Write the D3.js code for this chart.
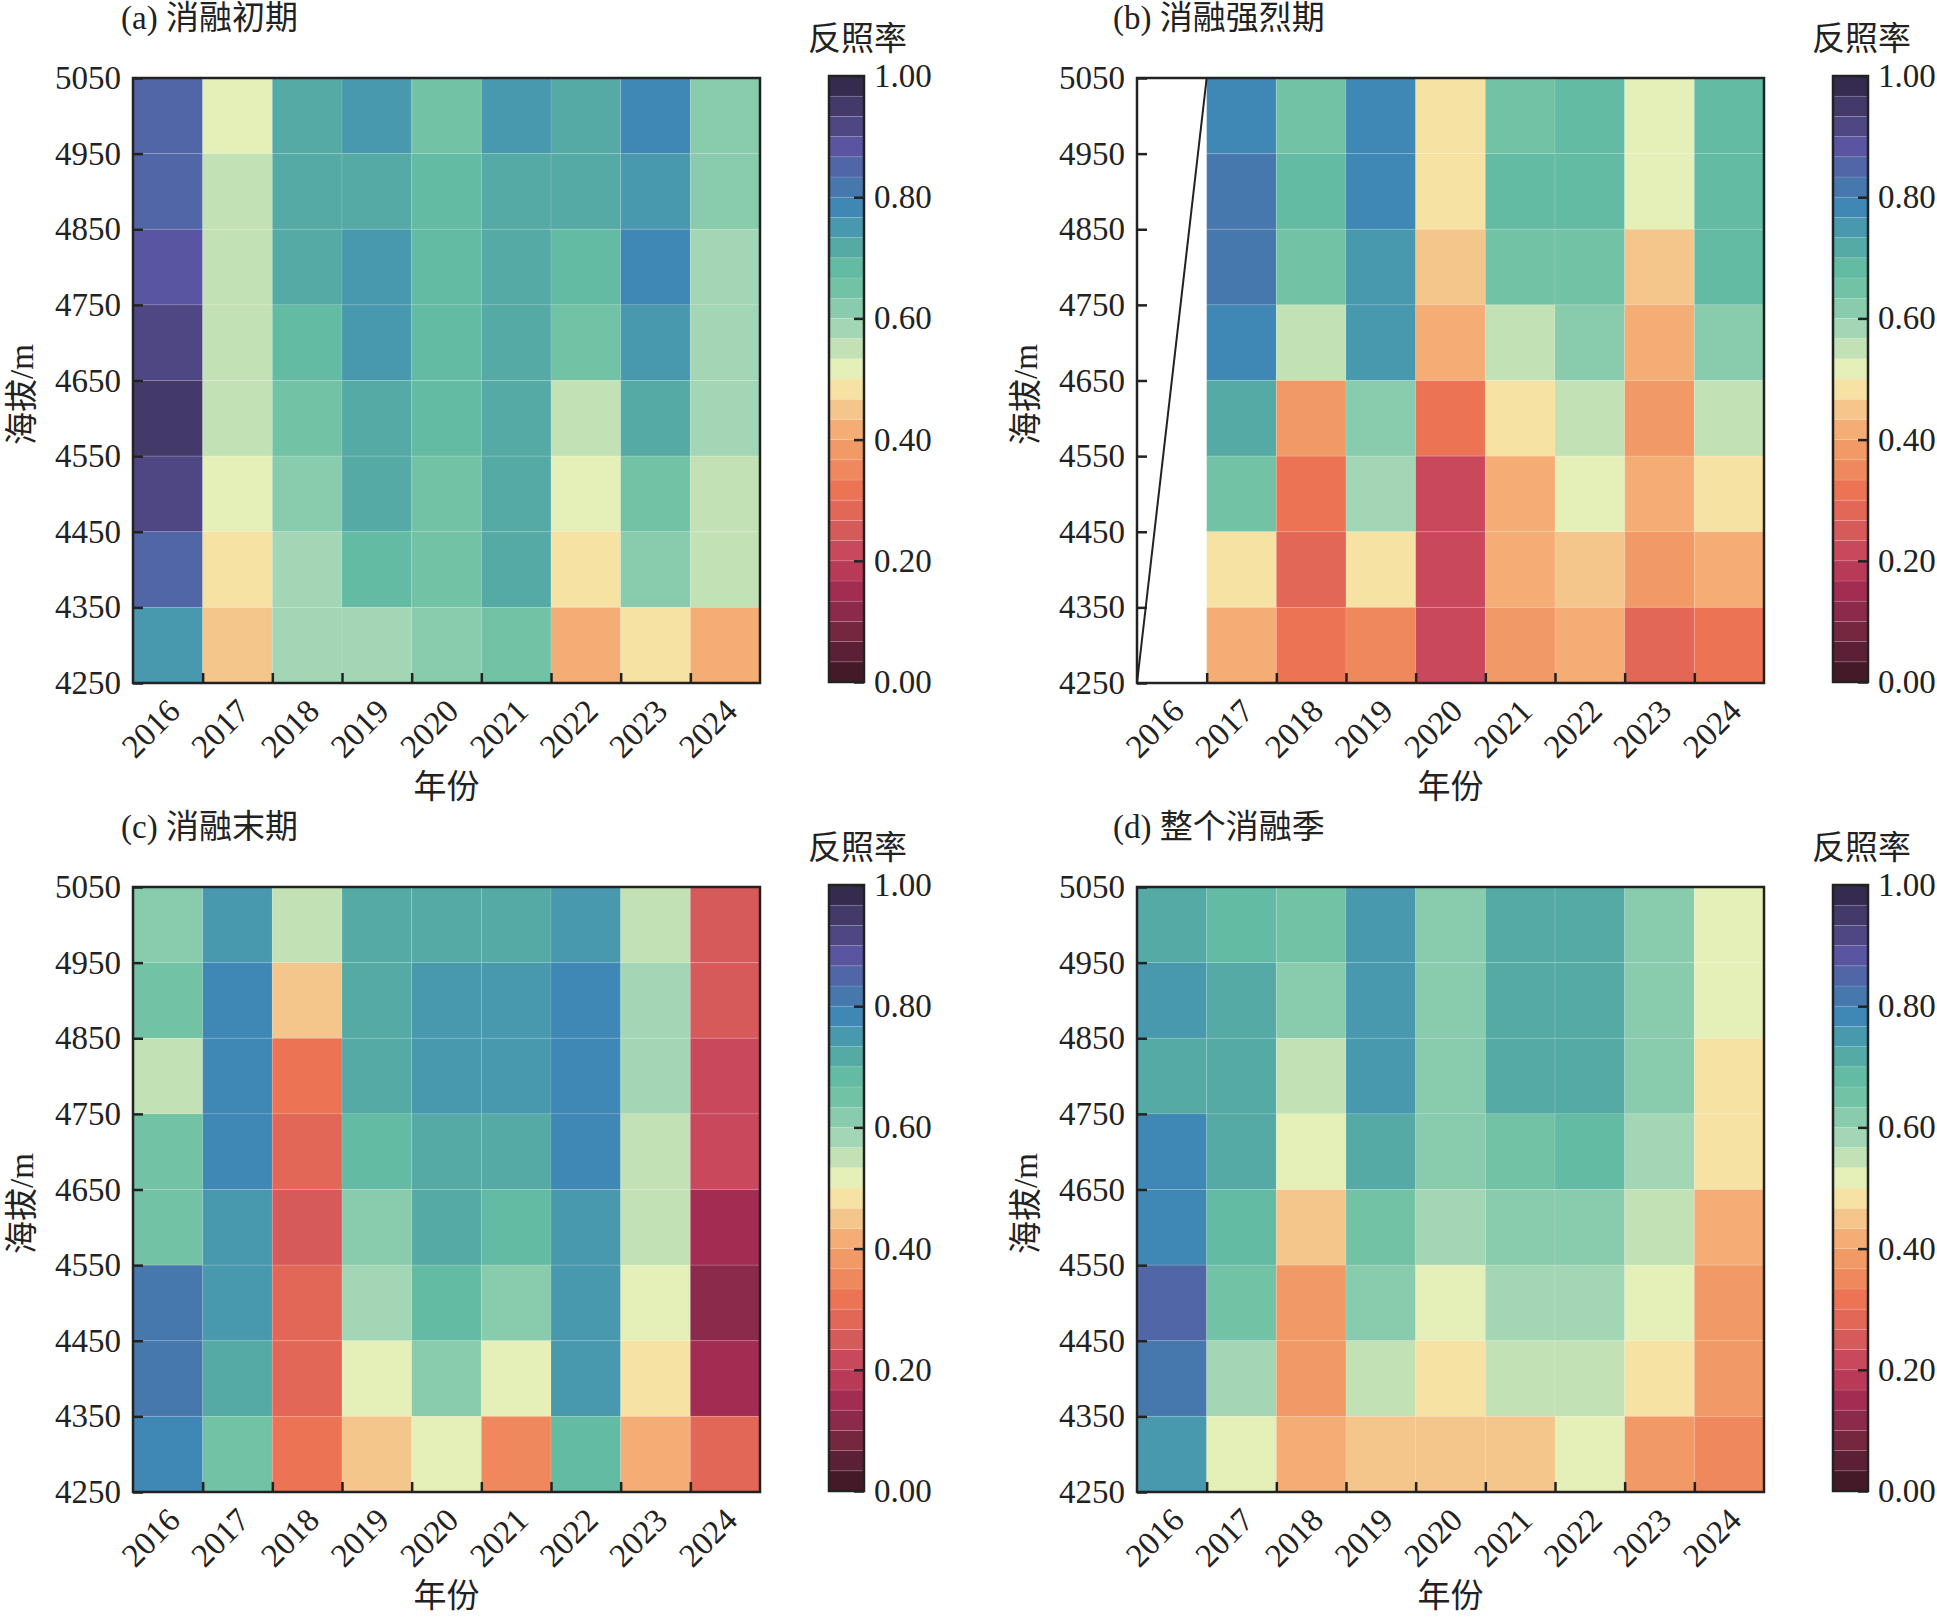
<!DOCTYPE html>
<html>
<head>
<meta charset="utf-8">
<script src="https://cdn.jsdelivr.net/npm/d3@7"></script>
<style>
  body { margin: 0; background: #fff; }
  text { font-family: "Liberation Serif", "Noto Sans CJK SC", serif; fill: #222; }
</style>
</head>
<body>
<div id="chart"></div>
<script>
const years = [2016, 2017, 2018, 2019, 2020, 2021, 2022, 2023, 2024];
const yTicks = [4250, 4350, 4450, 4550, 4650, 4750, 4850, 4950, 5050];
// lower edge of each elevation band, rows listed top to bottom
const bandLow = [4950, 4850, 4750, 4650, 4550, 4450, 4350, 4250];
const cbTicks = [0, 0.2, 0.4, 0.6, 0.8, 1.0];

// 30 discrete colours, 0.00 -> 1.00
const palette = [
  "#441a29", "#5c2036", "#752740", "#8c2a4b", "#a32c52", "#b83a57",
  "#ca485b", "#d75a5a", "#e26756", "#ec7455", "#ef885c", "#f29a66",
  "#f5ad76", "#f4c68b", "#f6e3a3", "#e5efb8", "#c2e2b5", "#a3d6b4",
  "#89cbad", "#72c2a6", "#63bba3", "#55aaa5", "#4898ae", "#3f87b4",
  "#4778ad", "#5066a6", "#5a55a0", "#4f4783", "#443a6a", "#352b4e"
];

// albedo, rows = bandLow (top to bottom), columns = years
const earlyMelt = [
  [0.85, 0.515, 0.715, 0.75, 0.65, 0.75, 0.715, 0.78, 0.615],
  [0.85, 0.55, 0.715, 0.715, 0.68, 0.715, 0.715, 0.75, 0.615],
  [0.88, 0.55, 0.715, 0.75, 0.68, 0.715, 0.68, 0.78, 0.58],
  [0.915, 0.55, 0.68, 0.75, 0.68, 0.715, 0.65, 0.75, 0.58],
  [0.95, 0.55, 0.65, 0.715, 0.68, 0.715, 0.55, 0.715, 0.58],
  [0.915, 0.515, 0.615, 0.715, 0.65, 0.715, 0.515, 0.65, 0.55],
  [0.85, 0.485, 0.58, 0.68, 0.65, 0.715, 0.485, 0.615, 0.55],
  [0.75, 0.45, 0.58, 0.58, 0.615, 0.65, 0.415, 0.485, 0.415]
];
const peakMelt = [
  [null, 0.78, 0.65, 0.78, 0.485, 0.65, 0.68, 0.515, 0.68],
  [null, 0.815, 0.68, 0.78, 0.485, 0.68, 0.68, 0.515, 0.68],
  [null, 0.815, 0.65, 0.75, 0.45, 0.65, 0.65, 0.45, 0.68],
  [null, 0.78, 0.55, 0.75, 0.415, 0.55, 0.615, 0.415, 0.615],
  [null, 0.715, 0.385, 0.615, 0.315, 0.485, 0.55, 0.385, 0.55],
  [null, 0.65, 0.315, 0.58, 0.215, 0.415, 0.515, 0.415, 0.485],
  [null, 0.485, 0.285, 0.485, 0.215, 0.415, 0.45, 0.385, 0.415],
  [null, 0.415, 0.315, 0.35, 0.215, 0.385, 0.415, 0.285, 0.315]
];
const lateMelt = [
  [0.615, 0.75, 0.55, 0.715, 0.715, 0.715, 0.75, 0.55, 0.25],
  [0.66, 0.78, 0.45, 0.715, 0.75, 0.75, 0.78, 0.58, 0.25],
  [0.55, 0.78, 0.315, 0.715, 0.75, 0.75, 0.78, 0.58, 0.215],
  [0.66, 0.78, 0.285, 0.68, 0.715, 0.715, 0.78, 0.55, 0.215],
  [0.66, 0.75, 0.25, 0.615, 0.715, 0.68, 0.75, 0.55, 0.15],
  [0.815, 0.75, 0.285, 0.58, 0.68, 0.615, 0.75, 0.515, 0.115],
  [0.815, 0.715, 0.285, 0.515, 0.615, 0.515, 0.75, 0.485, 0.15],
  [0.78, 0.65, 0.315, 0.45, 0.515, 0.35, 0.68, 0.415, 0.285]
];
const wholeSeason = [
  [0.715, 0.68, 0.65, 0.75, 0.615, 0.715, 0.715, 0.615, 0.515],
  [0.75, 0.715, 0.615, 0.75, 0.615, 0.715, 0.715, 0.615, 0.515],
  [0.715, 0.715, 0.55, 0.75, 0.615, 0.715, 0.715, 0.615, 0.485],
  [0.78, 0.715, 0.515, 0.715, 0.615, 0.65, 0.68, 0.58, 0.485],
  [0.78, 0.68, 0.45, 0.65, 0.58, 0.615, 0.615, 0.55, 0.415],
  [0.85, 0.65, 0.385, 0.615, 0.515, 0.58, 0.58, 0.515, 0.385],
  [0.815, 0.58, 0.385, 0.55, 0.485, 0.55, 0.55, 0.485, 0.385],
  [0.75, 0.515, 0.415, 0.45, 0.45, 0.45, 0.515, 0.385, 0.35]
];

const panels = [
  { title: "(a) 消融初期", values: earlyMelt, dx: 0, dy: 0, titleX: 121 },
  { title: "(b) 消融强烈期", values: peakMelt, dx: 1004, dy: 0, titleX: 1113, diagonal: true },
  { title: "(c) 消融末期", values: lateMelt, dx: 0, dy: 809, titleX: 121 },
  { title: "(d) 整个消融季", values: wholeSeason, dx: 1004, dy: 809, titleX: 1113 }
];

const width = 1937, height = 1620;
const plotW = 627, plotH = 605;
const plotLeft = 133, plotTop = 78;
const fontSize = 33;
const labelSize = 33;

const svg = d3.select("#chart").append("svg")
  .attr("width", width)
  .attr("height", height);

const color = d3.scaleQuantize().domain([0, 1]).range(palette);

panels.forEach(drawPanel);

function drawPanel(p) {
  const x0 = plotLeft + p.dx, y0 = plotTop + p.dy;
  const g = svg.append("g");

  const x = d3.scaleBand().domain(years).range([x0, x0 + plotW]).padding(0);
  const xEdge = d3.scaleLinear().domain([2015.5, 2024.5]).range([x0, x0 + plotW]);
  const y = d3.scaleLinear().domain([4250, 5050]).range([y0 + plotH, y0]);

  // cells
  const cells = [];
  p.values.forEach((row, i) => row.forEach((v, j) => {
    if (v !== null) cells.push({ year: years[j], low: bandLow[i], v: v });
  }));
  g.selectAll(".cell").data(cells).enter().append("rect")
    .attr("class", "cell")
    .attr("x", d => x(d.year))
    .attr("y", d => y(d.low + 100))
    .attr("width", x.bandwidth())
    .attr("height", d => y(d.low) - y(d.low + 100))
    .attr("fill", d => color(d.v))
    .attr("stroke", "rgba(255,255,255,0.12)")
    .attr("stroke-width", 1);

  if (p.diagonal) {
    g.append("line")
      .attr("x1", x(years[0])).attr("y1", y(4250))
      .attr("x2", x(years[0]) + x.bandwidth()).attr("y2", y(5050))
      .attr("stroke", "#222").attr("stroke-width", 2);
  }

  // y axis, inward ticks
  const yAxis = g.append("g")
    .attr("transform", `translate(${x0},0)`)
    .call(d3.axisLeft(y).tickValues(yTicks).tickSize(-10).tickPadding(12).tickFormat(d3.format("d")));
  yAxis.select(".domain").remove();
  yAxis.selectAll("line").attr("stroke", "#222").attr("stroke-width", 2.5);
  yAxis.selectAll("text").style("font-size", fontSize + "px").attr("fill", "#222");

  // x ticks at cell edges
  const xTickAxis = g.append("g")
    .attr("transform", `translate(0,${y0 + plotH})`)
    .call(d3.axisBottom(xEdge).tickValues(d3.range(2016.5, 2024, 1)).tickSize(-10).tickFormat(""));
  xTickAxis.select(".domain").remove();
  xTickAxis.selectAll("line").attr("stroke", "#222").attr("stroke-width", 2.5);

  // year labels at cell centres
  const xAxis = g.append("g")
    .attr("transform", `translate(0,${y0 + plotH})`)
    .call(d3.axisBottom(x).tickSize(0).tickFormat(d3.format("d")));
  xAxis.select(".domain").remove();
  xAxis.selectAll("text")
    .style("font-size", fontSize + "px")
    .attr("fill", "#222")
    .attr("text-anchor", "end")
    .attr("dy", 0)
    .attr("y", 0)
    .attr("transform", "translate(14,30) rotate(-45)");

  // frame
  g.append("rect")
    .attr("x", x0).attr("y", y0)
    .attr("width", plotW).attr("height", plotH)
    .attr("fill", "none").attr("stroke", "#222").attr("stroke-width", 2.5);

  // labels
  g.append("text")
    .attr("x", p.titleX).attr("y", y0 - 49)
    .style("font-size", labelSize + "px")
    .text(p.title);

  g.append("text")
    .attr("x", x0 + plotW / 2).attr("y", y0 + plotH + 115)
    .attr("text-anchor", "middle")
    .style("font-size", labelSize + "px")
    .text("年份");

  g.append("text")
    .attr("transform", `translate(${x0 - 100},${y0 + plotH / 2 + 14}) rotate(-90)`)
    .attr("text-anchor", "middle")
    .style("font-size", labelSize + "px")
    .text("海拔/m");

  drawColorbar(g, x0 + 696, y0 - 2, y0 + plotH - 1);
}

function drawColorbar(g, cx, cTop, cBottom) {
  const cbW = 35;
  const cy = d3.scaleLinear().domain([0, 1]).range([cBottom, cTop]);
  const step = 1 / palette.length;

  g.selectAll(".band").data(palette).enter().append("rect")
    .attr("class", "band")
    .attr("x", cx)
    .attr("y", (d, i) => cy((i + 1) * step))
    .attr("width", cbW)
    .attr("height", (d, i) => cy(i * step) - cy((i + 1) * step))
    .attr("fill", d => d)
    .attr("stroke", "rgba(255,255,255,0.15)")
    .attr("stroke-width", 0.8);

  g.append("rect")
    .attr("x", cx).attr("y", cTop)
    .attr("width", cbW).attr("height", cBottom - cTop)
    .attr("fill", "none").attr("stroke", "#222").attr("stroke-width", 2.5);

  const cbAxis = g.append("g")
    .attr("transform", `translate(${cx + cbW},0)`)
    .call(d3.axisRight(cy).tickValues(cbTicks).tickSize(-10).tickPadding(10).tickFormat(d3.format(".2f")));
  cbAxis.select(".domain").remove();
  cbAxis.selectAll("line").attr("stroke", "#222").attr("stroke-width", 2.5);
  cbAxis.selectAll("text").style("font-size", fontSize + "px").attr("fill", "#222");

  g.append("text")
    .attr("x", cx - 21).attr("y", cTop - 26)
    .style("font-size", labelSize + "px")
    .text("反照率");
}
</script>
</body>
</html>
